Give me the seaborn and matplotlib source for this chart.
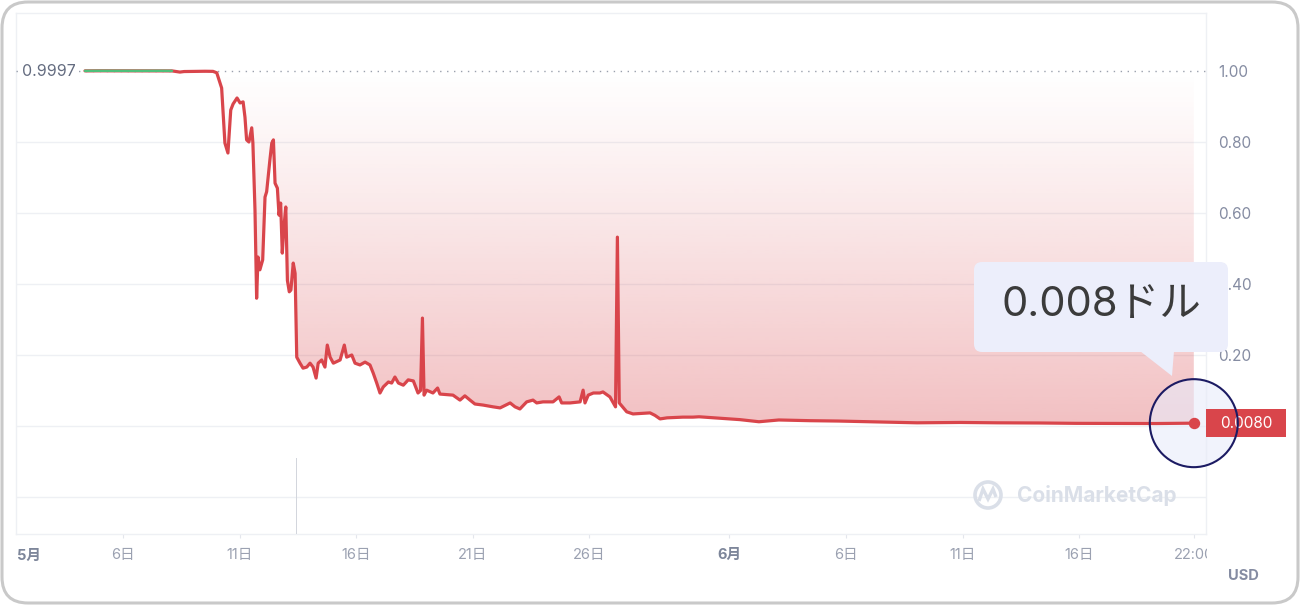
import numpy as np
import pandas as pd
import matplotlib
matplotlib.use("Agg")
import matplotlib.pyplot as plt
import matplotlib.dates as mdates
import matplotlib.patches as mpatches
import matplotlib.transforms as mtransforms
import seaborn as sns

# ---------------- data ----------------
START = pd.Timestamp("2022-05-01 00:00")

day_offsets = [3.37, 4.01, 4.87, 5.73, 6.59, 7.10, 7.27, 7.44, 7.62, 8.09, 8.52, 8.86, 9.02,
               9.23, 9.37, 9.50, 9.62, 9.72, 9.89, 10.02, 10.15, 10.23, 10.30, 10.40, 10.52, 10.57,
               10.66, 10.73, 10.79, 10.87, 10.99, 11.09, 11.16, 11.30, 11.38, 11.45, 11.52, 11.62,
               11.69, 11.76, 11.83, 11.90, 11.98, 12.05, 12.13, 12.20, 12.30, 12.38, 12.45, 12.59,
               12.72, 12.88, 13.02, 13.15, 13.28, 13.37, 13.52, 13.66, 13.76, 13.88, 14.02, 14.31,
               14.49, 14.59, 14.81, 14.95, 15.16, 15.38, 15.59, 15.73, 15.88, 16.02, 16.16, 16.38,
               16.52, 16.66, 16.81, 17.02, 17.23, 17.45, 17.65, 17.76, 17.84, 17.91, 18.02, 18.29,
               18.49, 18.59, 19.15, 19.45, 19.66, 19.88, 20.09, 20.44, 20.87, 21.17, 21.60, 21.81,
               22.02, 22.31, 22.58, 22.74, 23.01, 23.44, 23.70, 23.81, 24.17, 24.60, 24.73, 24.81,
               24.95, 25.17, 25.45, 25.58, 25.88, 26.12, 26.20, 26.28, 26.60, 26.87, 27.60, 27.81,
               28.03, 28.33, 29.01, 29.44, 29.70, 30.60, 31.45, 32.27, 33.12, 34.46, 35.66, 37.03,
               39.05, 40.89, 42.48, 44.32, 45.87, 47.75, 49.30, 50.917]
prices = [1.0004, 1.0006, 1.0005, 1.0004, 1.0006, 1.0003, 0.9985, 0.9970, 0.9985, 0.9990, 0.9993, 0.9990, 0.9950,
          0.952, 0.797, 0.769, 0.890, 0.907, 0.924, 0.910, 0.913, 0.870, 0.806, 0.800, 0.840, 0.797,
          0.608, 0.360, 0.476, 0.440, 0.468, 0.645, 0.660, 0.750, 0.797, 0.806, 0.684, 0.670,
          0.594, 0.628, 0.487, 0.560, 0.617, 0.410, 0.378, 0.383, 0.459, 0.430, 0.194, 0.177,
          0.163, 0.166, 0.177, 0.166, 0.135, 0.177, 0.186, 0.166, 0.228, 0.194, 0.177, 0.186,
          0.228, 0.194, 0.200, 0.177, 0.172, 0.180, 0.172, 0.149, 0.121, 0.093, 0.110, 0.124,
          0.121, 0.138, 0.121, 0.115, 0.130, 0.127, 0.093, 0.100, 0.304, 0.087, 0.101, 0.093,
          0.107, 0.090, 0.087, 0.073, 0.085, 0.073, 0.062, 0.059, 0.054, 0.051, 0.065, 0.054,
          0.048, 0.068, 0.073, 0.065, 0.068, 0.068, 0.082, 0.065, 0.065, 0.068, 0.101, 0.065,
          0.087, 0.093, 0.093, 0.096, 0.082, 0.054, 0.532, 0.065, 0.040, 0.034, 0.037, 0.030,
          0.020, 0.023, 0.025, 0.025, 0.026, 0.022, 0.018, 0.012, 0.017, 0.015, 0.014, 0.012,
          0.009, 0.010, 0.009, 0.0085, 0.0075, 0.0072, 0.0070, 0.0080]

baseline_price = 0.9997
baseline_label = "0.9997"
last_price_label = "0.0080"
tooltip_text = "0.008ドル"

volume_days = [12.46]
volume_values = [1.0]

xtick_days = [5, 10, 15, 20, 25, 31, 36, 41, 46, 50 + 22 / 24]
xtick_labels = ["6日", "11日", "16日", "21日", "26日", "6月", "6日", "11日", "16日", "22:00"]
first_month_label = "5月"
ytick_values = [-0.2, 0.0, 0.2, 0.4, 0.6, 0.8, 1.0]
ytick_labels = ["", "", "0.20", "0.40", "0.60", "0.80", "1.00"]
currency_label = "USD"
watermark = "CoinMarketCap"

# ---------------- style ----------------
RED = "#d9454b"
GREEN = "#4fbf7a"
GRID = "#eef0f4"
TICK = "#858ca2"
W, H = 1300, 605

sns.set_theme(style="white")
plt.rcParams["font.family"] = ["Inter", "Noto Sans CJK JP", "DejaVu Sans"]

dates = START + pd.to_timedelta(day_offsets, unit="D")
df = pd.DataFrame({"date": dates, "price": prices})
xnum = mdates.date2num(dates.to_pydatetime())

fig = plt.figure(figsize=(W / 100, H / 100), dpi=100)
ax = fig.add_axes([16 / W, 71 / H, 1190 / W, 521 / H])

# volume (hidden twin axis)
ax2 = ax.twinx()
vol_dates = mdates.date2num((START + pd.to_timedelta(volume_days, unit="D")).to_pydatetime())
ax2.bar(vol_dates, volume_values, width=0.045, color="#d3d6dd", linewidth=0)
ax2.set_ylim(0, max(volume_values) / (76 / 521))
ax2.axis("off")

# line
sns.lineplot(data=df, x="date", y="price", ax=ax, color=RED, linewidth=2.3, zorder=5)
above = df[df["price"] > baseline_price]
sns.lineplot(data=above, x="date", y="price", ax=ax, color=GREEN, linewidth=1.8, zorder=6)

# gradient fill between price and baseline
poly = ax.fill_between(xnum, prices, baseline_price, facecolor="none", edgecolor="none")
clip_path = poly.get_paths()[0]
vals = np.linspace(0, 1, 256)
rgba = np.zeros((256, 1, 4))
rgba[..., :3] = matplotlib.colors.to_rgb(RED)
rgba[:, 0, 3] = 0.34 * (1 - vals) ** 1.1
im = ax.imshow(rgba, extent=[xnum[0], xnum[-1], 0.0, 1.0], origin="lower",
               aspect="auto", zorder=2, interpolation="bilinear")
im.set_clip_path(clip_path, transform=ax.transData)

# baseline dotted
ax.axhline(baseline_price, color="#9aa0ad", linestyle=(0, (1, 4)), linewidth=1.0, zorder=3)
ax.text(6 / 1190, baseline_price, baseline_label,
        transform=mtransforms.blended_transform_factory(ax.transAxes, ax.transData),
        ha="left", va="center", fontsize=11.5, color="#646c80", zorder=7,
        bbox=dict(boxstyle="square,pad=0.15", fc="white", ec="none"))

# limits
xmin = mdates.date2num((START + pd.Timedelta(days=0.4117)).to_pydatetime())
xmax = mdates.date2num((START + pd.Timedelta(days=51.44)).to_pydatetime())
ax.set_xlim(xmin, xmax)
ax.set_ylim(-0.3042, 1.1634)

# axes styling
ax.yaxis.tick_right()
ax.set_yticks(ytick_values)
ax.set_yticklabels(ytick_labels)
ax.grid(axis="y", color=GRID, linewidth=1.0)
ax.grid(axis="x", visible=False)
for t, v in zip(ax.yaxis.get_major_ticks(), ytick_values):
    if abs(v - 1.0) < 1e-9:
        t.gridline.set_visible(False)
ax.tick_params(axis="y", length=0, pad=8.5, labelsize=11, labelcolor=TICK)

tick_dates = mdates.date2num((START + pd.to_timedelta(xtick_days, unit="D")).to_pydatetime())
ax.set_xticks(tick_dates)
ax.set_xticklabels(xtick_labels)
ax.tick_params(axis="x", bottom=True, length=3, width=0.8, color="#e3e6ec",
               pad=7, labelsize=10.5, labelcolor="#9ba1b1")
for lbl in ax.get_xticklabels():
    if lbl.get_text().endswith("月"):
        lbl.set_fontweight("bold")
        lbl.set_color("#7d869a")
clipbox = mtransforms.TransformedBbox(mtransforms.Bbox.from_extents(0, 0, 1207 / W, 1), fig.transFigure)
last_lbl = ax.get_xticklabels()[-1]
last_lbl.set_clip_on(True)
last_lbl.set_clip_box(clipbox)

ax.set_xlabel("")
ax.set_ylabel("")
for s in ax.spines.values():
    s.set_color(GRID)
    s.set_linewidth(1.0)
ax.set_facecolor("white")

fig.text(17 / W, 1 - 556 / H, first_month_label, ha="left", va="center",
         fontsize=10.5, fontweight="bold", color="#7d869a")
fig.text(1243 / W, 1 - 576 / H, currency_label, ha="center", va="center",
         fontsize=10.5, fontweight="bold", color=TICK)

# watermark
wm = "#dadfe8"
fig.add_artist(mpatches.Circle((988, H - 495), 13, transform=mtransforms.IdentityTransform(),
                               fill=False, ec=wm, lw=2.6, zorder=1))
wave = mpatches.Polygon([(979, H - 501), (983, H - 489), (988, H - 499), (993, H - 489), (996, H - 497)],
                        closed=False, fill=False, ec=wm, lw=2.4,
                        transform=mtransforms.IdentityTransform(), zorder=1)
fig.add_artist(wave)
fig.text(1017 / W, 1 - 496 / H, watermark, ha="left", va="center", fontsize=15,
         fontweight="bold", color=wm, zorder=1)

# last point marker, circle highlight, price label
last_x, last_y = xnum[-1], prices[-1]
ax.scatter([last_x], [last_y], s=(88 * 0.72) ** 2, facecolor=(0.91, 0.92, 0.98, 0.6),
           edgecolor="none", zorder=4, clip_on=False)
bt = mtransforms.blended_transform_factory(ax.transAxes, ax.transData)
ax.add_patch(mpatches.Rectangle((1.0, last_y - 14 / 355), 80 / 1190, 28 / 355, transform=bt,
                                facecolor=RED, edgecolor="none", zorder=8, clip_on=False))
ax.text(1.0 + 40 / 1190, last_y, last_price_label, transform=bt, ha="center", va="center",
        fontsize=11, color="white", zorder=9, clip_on=False)
ax.scatter([last_x], [last_y], s=(88 * 0.72) ** 2, facecolor="none",
           edgecolor="#1c1b63", linewidth=1.5, zorder=10, clip_on=False)
ax.scatter([last_x], [last_y], s=(10 * 0.72) ** 2, color=RED, zorder=11, clip_on=False)

# tooltip
ident = mtransforms.IdentityTransform()
fig.add_artist(mpatches.FancyBboxPatch((974, H - 352), 254, 90,
                                       boxstyle="round,pad=0,rounding_size=8",
                                       transform=ident, fc="#eceefb", ec="none", zorder=20))
fig.add_artist(mpatches.Polygon([(1140, H - 351), (1174, H - 351), (1172, H - 376)],
                                closed=True, transform=ident, fc="#eceefb", ec="none", zorder=20))
fig.text(1101 / W, 1 - 305 / H, tooltip_text, ha="center", va="center", fontsize=30,
         color="#3b3b3b", family=["Inter", "Noto Sans CJK JP"], zorder=21)

# card border
fig.add_artist(mpatches.FancyBboxPatch((2, 2), W - 4, H - 4,
                                       boxstyle="round,pad=0,rounding_size=26",
                                       transform=ident, fc="none", ec="#c9c9c9", lw=2.2, zorder=30))

fig.savefig("out.png", dpi=100, facecolor="white")
